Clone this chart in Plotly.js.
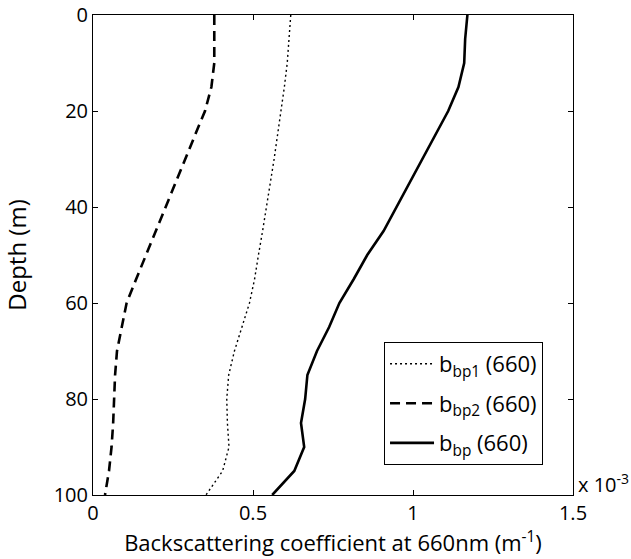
<!DOCTYPE html>
<html>
<head>
<meta charset="utf-8">
<script src="https://cdn.plot.ly/plotly-3.0.1.min.js"></script>
<style>html,body{margin:0;padding:0;background:#fff;}#chart{width:631px;height:559px;}</style>
</head>
<body>
<div id="chart"></div>
<script>
// Depth (m)
const depth = [0, 5, 10, 15, 20, 25, 30, 35, 40, 45, 50, 55, 60, 65, 70, 75, 80, 85, 90, 95, 100];
// Backscattering coefficients at 660 nm, in units of 1e-3 m^-1
const bbp1 = [0.618, 0.612, 0.607, 0.598, 0.588, 0.577, 0.566, 0.554, 0.543, 0.530, 0.517, 0.505, 0.489, 0.465, 0.442, 0.424, 0.418, 0.420, 0.425, 0.405, 0.353];
const bbp2 = [0.379, 0.379, 0.379, 0.370, 0.350, 0.319, 0.288, 0.257, 0.226, 0.196, 0.165, 0.135, 0.105, 0.089, 0.075, 0.069, 0.067, 0.063, 0.058, 0.050, 0.0375];
const bbp  = [1.170, 1.163, 1.160, 1.142, 1.110, 1.070, 1.029, 0.989, 0.949, 0.908, 0.857, 0.815, 0.770, 0.738, 0.700, 0.670, 0.663, 0.650, 0.660, 0.629, 0.560];
const xTicks = [0, 0.5, 1, 1.5];
const xTickText = ['0', '0.5', '1', '1.5'];
const yTicks = [0, 20, 40, 60, 80, 100];
const names = ['b<sub>bp1</sub> (660)', 'b<sub>bp2</sub> (660)', 'b<sub>bp</sub> (660)'];

const FONT = 'Open Sans, Liberation Sans, Arial, sans-serif';

const traces = [
  {x: bbp1, y: depth, name: names[0], legendgroup: 'g1', mode: 'lines', line: {color: '#000', width: 1.4, dash: '2px,3px'}},
  {x: bbp2, y: depth, name: names[1], legendgroup: 'g2', mode: 'lines', line: {color: '#000', width: 2.6, dash: '10px,6px'}},
  {x: bbp,  y: depth, name: names[2], legendgroup: 'g3', mode: 'lines', line: {color: '#000', width: 2.6}}
];

const axisCommon = {
  showline: true, linecolor: '#000', linewidth: 1, mirror: 'ticks',
  ticks: 'inside', ticklen: 5, tickcolor: '#000', tickwidth: 1,
  showgrid: false, zeroline: false,
  tickfont: {family: FONT, size: 20, color: '#000'}
};

const layout = {
  width: 631, height: 559,
  margin: {l: 93, r: 58, t: 15, b: 64},
  paper_bgcolor: '#fff', plot_bgcolor: '#fff',
  font: {family: FONT, color: '#000'},
  showlegend: true,
  xaxis: Object.assign({}, axisCommon, {
    range: [0, 1.5], tickmode: 'array', tickvals: xTicks, ticktext: xTickText,
    title: {text: 'Backscattering coefficient at 660nm (m<sup>-1</sup>)', font: {family: FONT, size: 22, color: '#000'}, standoff: 4}
  }),
  yaxis: Object.assign({}, axisCommon, {
    range: [100, 0], tickmode: 'array', tickvals: yTicks,
    title: {text: 'Depth (m)', font: {family: FONT, size: 24, color: '#000'}, standoff: 22}
  }),
  legend: {
    x: 0.6063, y: 0.319, xanchor: 'left', yanchor: 'top',
    bgcolor: '#fff', bordercolor: '#000', borderwidth: 1,
    font: {family: FONT, size: 22, color: '#000'},
    itemwidth: 44, traceorder: 'grouped', tracegroupgap: 8
  },
  annotations: [{
    xref: 'paper', yref: 'paper', x: 1.006, y: 0, xanchor: 'left', yanchor: 'bottom', yshift: -5,
    text: 'x 10<sup>-3</sup>', showarrow: false, font: {family: FONT, size: 20, color: '#000'}
  }]
};

Plotly.newPlot('chart', traces, layout, {displayModeBar: false, staticPlot: true});
</script>
</body>
</html>
